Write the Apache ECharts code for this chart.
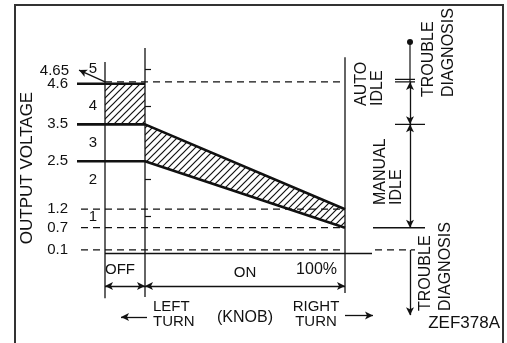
<!DOCTYPE html>
<html>
<head>
<meta charset="utf-8">
<script src="https://cdn.jsdelivr.net/npm/echarts@6/dist/echarts.min.js"></script>
<style>
  html, body { margin: 0; padding: 0; background: #fff; }
  #chart { width: 507px; height: 343px; }
</style>
</head>
<body>
<div id="chart"></div>
<script>
// output voltage (V) against knob position: OFF = -20..0, ON = 0..100 %
const voltTicks = [1, 2, 3, 4, 5];
const levelTicks = [4.6, 3.5, 2.5, 1.2, 0.7, 0.1];
const autoIdleTop = 4.65;
const offKnob = [-20, 0];
const onKnob = [0, 100];
const offUpper = [4.6, 4.6];
const offLower = [3.5, 3.5];
const onUpper = [3.5, 1.2];
const onLower = [2.5, 0.7];
const dashedLevels = [1.2, 0.7, 0.1];
const idleSplit = 3.5;
const manualIdleBottom = 0.7;
const troubleLow = 0.1;

const INK = '#111';
const FONT = '"Liberation Sans", Arial, Helvetica, sans-serif';
const DASH = [7, 5];

// hatch pattern for the tolerance band
const hatch = document.createElement('canvas');
hatch.width = 7;
hatch.height = 7;
const hctx = hatch.getContext('2d');
hctx.fillStyle = '#fff';
hctx.fillRect(0, 0, 7, 7);
hctx.strokeStyle = INK;
hctx.lineWidth = 1.2;
hctx.beginPath();
hctx.moveTo(0, 7); hctx.lineTo(7, 0);
hctx.moveTo(-1, 1); hctx.lineTo(1, -1);
hctx.moveTo(6, 8); hctx.lineTo(8, 6);
hctx.stroke();

const bands = [
  [[offKnob[0], offUpper[0]], [offKnob[1], offUpper[1]], [offKnob[1], offLower[1]], [offKnob[0], offLower[0]]],
  [[onKnob[0], onUpper[0]], [onKnob[1], onUpper[1]], [onKnob[1], onLower[1]], [onKnob[0], onLower[0]]]
];

function line(points, width, type) {
  return {
    type: 'line',
    data: points,
    showSymbol: false,
    symbol: 'none',
    silent: true,
    animation: false,
    z: 3,
    lineStyle: { color: INK, width: width, type: type || 'solid' }
  };
}

const sideX = 132.5; // right hand annotation column

const series = [
  {
    type: 'custom',
    data: bands.map((b, i) => [i]),
    silent: true,
    animation: false,
    z: 2,
    renderItem: function (params, api) {
      const pts = bands[params.dataIndex].map(p => api.coord(p));
      return {
        type: 'polygon',
        shape: { points: pts },
        style: { fill: { image: hatch, repeat: 'repeat' }, stroke: null }
      };
    }
  },
  // axes and knob dividers
  line([[offKnob[0], -1.21], [offKnob[0], 5.19]], 1.3),
  line([[onKnob[0], -1.18], [onKnob[0], 5.57]], 1.3),
  line([[onKnob[1], -1.07], [onKnob[1], 5.32]], 1.3),
  // boundaries
  line([[offKnob[0], autoIdleTop], [onKnob[1], autoIdleTop]], 1.2, DASH),
  line([[-34, offUpper[0]]].concat(offKnob.map((x, i) => [x, offUpper[i]])), 2.3),
  line([[-34, offLower[0]]].concat(offKnob.map((x, i) => [x, offLower[i]]), onKnob.map((x, i) => [x, onUpper[i]])), 2.6),
  line([[-34, onLower[0]]].concat(onKnob.map((x, i) => [x, onLower[i]])), 2.6)
];

dashedLevels.forEach(v => series.push(line([[-32, v], [onKnob[1], v]], 1.2, DASH)));

// right side ticks
series.push(line([[125, autoIdleTop], [135, autoIdleTop]], 1.2));
series.push(line([[125, autoIdleTop + 0.07], [135, autoIdleTop + 0.07]], 1.2));
series.push(line([[125, idleSplit], [140, idleSplit]], 1.3));
series.push(line([[114, manualIdleBottom], [140, manualIdleBottom]], 1.5));
series.push(line([[115, troubleLow], [135, troubleLow]], 1.2, DASH));
series.push({
  type: 'line',
  data: [{ value: [sideX, autoIdleTop], symbol: 'none' }, { value: [sideX, 5.73], symbol: 'circle' }],
  symbolSize: 6,
  showSymbol: true,
  silent: true,
  animation: false,
  itemStyle: { color: INK },
  lineStyle: { color: INK, width: 1.2 }
});

function arrow(from, to, both) {
  return [
    { coord: from, symbol: both ? 'arrow' : 'none' },
    { coord: to, symbol: 'arrow' }
  ];
}

// x axis line carries the arrow annotations
const axisLine = line([[offKnob[0], 0], [113.5, 0]], 1.3);
axisLine.markLine = {
  silent: true,
  animation: false,
  symbolSize: [6, 8],
  label: { show: false },
  lineStyle: { color: INK, width: 1.3, type: 'solid' },
  emphasis: { disabled: true },
  data: [
    arrow([offKnob[0], autoIdleTop], [-33, 4.97], false),
    arrow([sideX, autoIdleTop], [sideX, idleSplit], true),
    arrow([sideX, idleSplit], [sideX, manualIdleBottom], true),
    arrow([sideX, troubleLow], [sideX, -1.67], false),
    arrow([offKnob[0], -0.88], [offKnob[1], -0.88], true),
    arrow([onKnob[0], -0.88], [onKnob[1], -0.88], true),
    arrow([1, -1.72], [-12, -1.72], false),
    arrow([onKnob[1], -1.68], [114, -1.68], false)
  ]
};
series.push(axisLine);

function text(str, x, y, opts) {
  opts = opts || {};
  return {
    type: 'text',
    x: x,
    y: y,
    rotation: opts.rotation || 0,
    silent: true,
    style: {
      text: str,
      fill: INK,
      fontFamily: FONT,
      fontSize: opts.size || 15,
      align: opts.align || 'center',
      verticalAlign: 'middle',
      lineHeight: opts.lh || 16
    }
  };
}

const R = Math.PI / 2;

const option = {
  backgroundColor: '#fff',
  animation: false,
  grid: { left: 77, right: 82, top: 21, bottom: 12 },
  xAxis: { type: 'value', min: -34, max: 140, show: false },
  yAxis: [
    {
      type: 'value',
      min: -2.1,
      max: 6.3,
      position: 'left',
      offset: -28,
      axisLine: { show: false },
      splitLine: { show: false },
      axisTick: { show: true, inside: true, length: 6, customValues: voltTicks, lineStyle: { color: INK, width: 1.2 } },
      axisLabel: { customValues: voltTicks, margin: 8, color: INK, fontSize: 15, fontFamily: FONT }
    },
    {
      type: 'value',
      min: -2.1,
      max: 6.3,
      position: 'left',
      offset: 0,
      axisLine: { show: false },
      splitLine: { show: false },
      axisTick: { show: false },
      axisLabel: { customValues: levelTicks, margin: 9, color: INK, fontSize: 15, fontFamily: FONT }
    }
  ],
  series: series,
  graphic: [
    { type: 'rect', silent: true, shape: { x: 15, y: 5, width: 488, height: 350 }, style: { fill: 'none', stroke: '#333', lineWidth: 2 } },
    text('OUTPUT VOLTAGE', 27, 168, { rotation: R, size: 17 }),
    text('4.65', 69, 71, { align: 'right' }),
    text('OFF', 105, 270, { align: 'left' }),
    text('ON', 245, 273),
    text('100%', 337, 270, { align: 'right', size: 16 }),
    text('LEFT\nTURN', 153, 314.5, { align: 'left', lh: 15 }),
    text('(KNOB)', 245, 318, { size: 16 }),
    text('RIGHT\nTURN', 316, 314.5, { lh: 15 }),
    text('ZEF378A', 500, 323, { align: 'right', size: 17 }),
    text('AUTO\nIDLE', 370, 106, { rotation: R, align: 'left', size: 16 }),
    text('MANUAL\nIDLE', 389, 205, { rotation: R, align: 'left', size: 16 }),
    text('TROUBLE\nDIAGNOSIS', 439, 97, { rotation: R, align: 'left', size: 16, lh: 20 }),
    text('TROUBLE\nDIAGNOSIS', 436, 311, { rotation: R, align: 'left', size: 16, lh: 20 })
  ]
};

const chart = echarts.init(document.getElementById('chart'));
chart.setOption(option);
</script>
</body>
</html>
